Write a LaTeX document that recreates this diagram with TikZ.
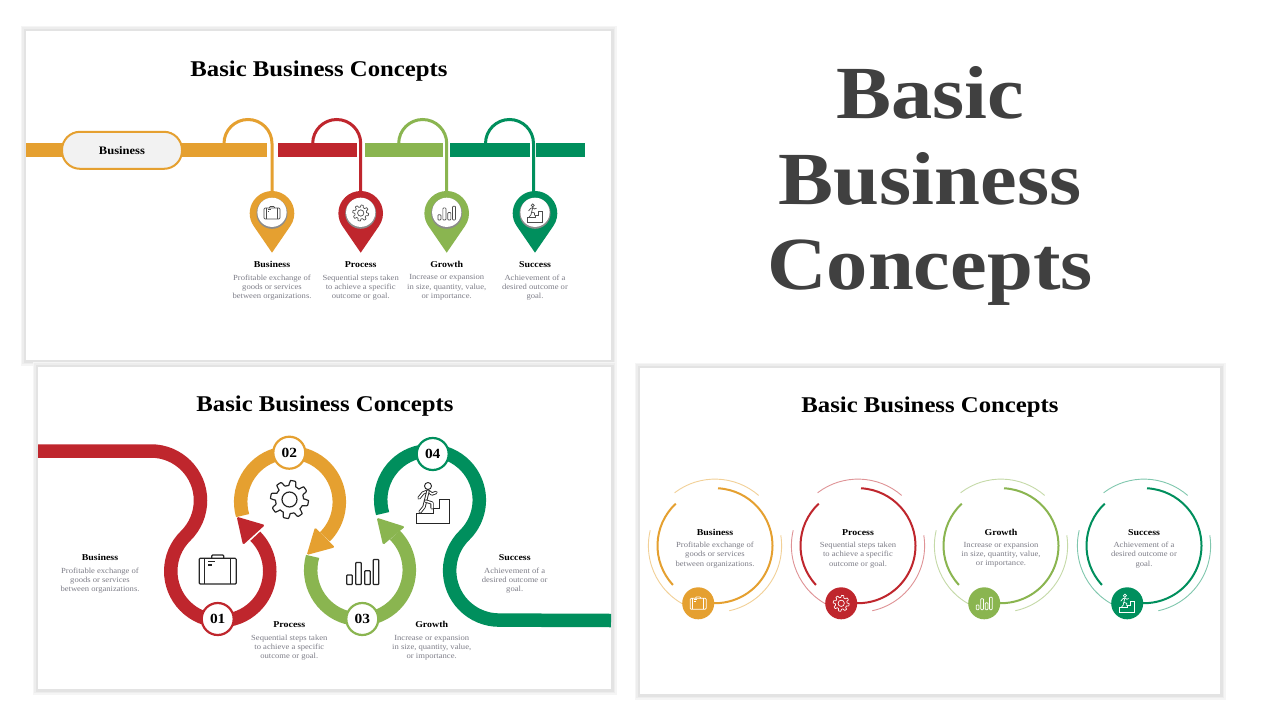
\documentclass[tikz,border=0pt]{standalone}
\usepackage{fontspec}
\usetikzlibrary{positioning}
\setmainfont[FakeStretch=1.1]{Liberation Serif}
\definecolor{bizorange}{HTML}{E5A030}
\definecolor{bizred}{HTML}{BF262D}
\definecolor{bizgreen}{HTML}{8AB550}
\definecolor{bizteal}{HTML}{008F5D}
\definecolor{notegray}{HTML}{7E7E88}
\newcommand{\notebusiness}{Profitable exchange of\\goods or services\\between organizations.}
\newcommand{\noteprocess}{Sequential steps taken\\to achieve a specific\\outcome or goal.}
\newcommand{\notegrowth}{Increase or expansion\\in size, quantity, value,\\or importance.}
\newcommand{\notesuccess}{Achievement of a\\desired outcome or\\goal.}
\tikzset{
  slidetitle/.style={anchor=base, inner sep=0, font=\bfseries\fontsize{22.5}{24}\selectfont},
  bigtitle/.style={anchor=base, inner sep=0, text=black!75, font=\bfseries\fontsize{75}{80}\selectfont},
  conceptname/.style={inner sep=0, text depth=0pt, text height=6.5pt, font=\bfseries\fontsize{9}{10}\selectfont},
  conceptbody/.style={inner sep=0, align=center, text=notegray, font=\fontsize{7.8}{9.3}\selectfont},
  band/.style={line width=13.5},
  stepnum/.style={circle, fill=white, line width=2.2, minimum size=32, inner sep=0, font=\bfseries\fontsize{14}{14}\selectfont},
  limb/.style={line cap=round, line join=round},
  briefcase/.pic={
    \draw[rounded corners=1] (-18.5,-11.7) rectangle (18.5,14);
    \draw[rounded corners=1] (-6,-11.7) -- (-6,-15) -- (6,-15) -- (6,-11.7);
    \draw (-13,-11.7) -- (-13,14) (13,-11.7) -- (13,14);
    \draw (-9.5,-8.5) -- (-3,-8.5) (-9.5,-5) -- (-6,-5);
  },
  gearicon/.pic={
    \draw[line join=round] plot[domain=0:360, samples=121] (\x:{16.5+2.5*max(-1,min(1,2.5*sin(8*\x)))}) -- cycle;
    \draw (0,0) circle[radius=7.5];
  },
  barsicon/.pic={
    \foreach \lx/\top in {-16/3.2, -7/-9.3, 2/-1, 10.5/-12.3}
      \draw[rounded corners=.8] (\lx,12.7) rectangle ({\lx+5.6},\top);
  },
  stairsicon/.pic={
    \draw[line join=miter] (-16.7,10) -- (-16.7,20) -- (16.7,20) -- (16.7,-3.3) -- (6.7,-3.3) -- (6.7,5) -- (0,5) -- (0,10) -- cycle;
    \draw (-5,-17) circle[radius=3.5];
    \draw[limb] (-14,-5) -- (-10,-10) -- (-5,-12) -- (-1,-9) -- (3,-10.5);
    \draw[limb] (-5,-12) -- (-7.5,-2) -- (-9,4) -- (-13,9);
    \draw[limb] (-7.5,-2) -- (-1,0) -- (-1,5);
  },
  pin/.pic={
    \fill (0,39.4) -- (34.5:22.3) arc[start angle=34.5, end angle=-214.5, radius=22.3] -- cycle;
  }
}

\begin{document}
\begin{tikzpicture}[x=1pt, y=-1pt]
\path[use as bounding box, fill=white] (0,0) rectangle (1280,720);

% three slides, each with a soft edge
\foreach \lft/\tp/\rgt/\bt in {26/31/611/360, 38/367/611/689, 640/368/1220/694}
{
  \draw[black!4, line width=11] (\lft,\tp) rectangle (\rgt,\bt);
  \draw[black!7, line width=8] (\lft,\tp) rectangle (\rgt,\bt);
  \draw[black!11, line width=5] (\lft,\tp) rectangle (\rgt,\bt);
  \fill[white] (\lft,\tp) rectangle (\rgt,\bt);
}

\node[bigtitle] (big1) at (930,118) {Basic};
\node[bigtitle] (big2) at (930,204) {Business};
\node[bigtitle] (big3) at (930,289) {Concepts};

% slide one, the pins
\node[slidetitle] (title1) at (319,76) {Basic Business Concepts};
\fill[bizorange] (26,143.3) rectangle (267.3,156.7);
\fill[bizred] (277.7,143.3) rectangle (356.7,156.7);
\fill[bizgreen] (364.7,143.3) rectangle (443.3,156.7);
\fill[bizteal] (450.3,143.3) rectangle (529.5,156.7);
\fill[bizteal] (536.3,143.3) rectangle (585,156.7);
\node[draw=bizorange, fill=black!5, line width=2, rounded corners=18, minimum width=120, minimum height=37, inner sep=0,
  font=\bfseries\fontsize{11.4}{12}\selectfont] (pill) at (122,150.3) {Business};
\foreach \hue/\rx/\px/\pictype/\iconscale/\name/\body [count=\i] in {
  bizorange/272/272/briefcase/.43/Business/\notebusiness,
  bizred/360.7/360.7/gearicon/.42/Process/\noteprocess,
  bizgreen/446.7/446.7/barsicon/.55/Growth/\notegrowth,
  bizteal/533.5/535/stairsicon/.45/Success/\notesuccess}
{
  \coordinate (hook\i) at ({\rx-48},143.5);
  \node[conceptname] (name\i) at (\px,264.5) {\name};
  \node[conceptbody, below=6.5pt of name\i] (body\i) {\body};
  \pic[color=\hue] (pin\i) at (\px,213.3) {pin};
  \draw[\hue, line width=3] (hook\i) arc[start angle=180, end angle=360, radius=24] -- (\rx,196);
  \fill[black!45] (\px,213.3) circle[radius=15.5];
  \fill[white] (\px,212.3) circle[radius=14.6];
  \pic[color=black!70, line width=.7, scale=\iconscale] at (\px,213) {\pictype};
}

% slide two, the winding band
\node[slidetitle] (title2) at (325,411) {Basic Business Concepts};
\draw[band, bizteal] (430,500) ++(164:49.3) arc[start angle=164, end angle=405.6, radius=49.3]
  arc[start angle=225.6, end angle=90, radius=49.5] -- (611,620.5);
\draw[band, bizgreen] (360,570) ++(196:49.3) arc[start angle=196, end angle=-45, radius=49.3];
\fill[bizgreen, rounded corners=1.5] (376.7,517.7) -- (405,526.7) -- (383,545) -- cycle;
\draw[band, bizorange] (290,502) ++(164:49.3) arc[start angle=164, end angle=405, radius=49.3];
\fill[bizorange, rounded corners=1.5] (306.7,555) -- (315,527.3) -- (335,547.3) -- cycle;
\draw[band, bizred] (38,451) -- (151,451) arc[start angle=-90, end angle=45.6, radius=49.5]
  arc[start angle=225.6, end angle=-45, radius=49.5];
\fill[bizred, rounded corners=1.5] (236.7,516.7) -- (265,525) -- (243,545) -- cycle;
\node[stepnum, draw=bizred] (step1) at (217.7,619) {01};
\node[stepnum, draw=bizorange] (step2) at (289.3,452.7) {02};
\node[stepnum, draw=bizgreen] (step3) at (362.3,619) {03};
\node[stepnum, draw=bizteal] (step4) at (432.7,454) {04};
\pic[color=black!85, line width=1.2] at (217.7,570) {briefcase};
\pic[color=black!85, line width=1.2] at (289.5,499.5) {gearicon};
\pic[color=black!85, line width=1.2] at (362.7,571.7) {barsicon};
\pic[color=black!85, line width=.9, limb/.append style={double=white, double distance=1.5pt}] at (433,503) {stairsicon};
\foreach \name/\nx/\ny/\body [count=\i] in {
  Business/100/557.7/\notebusiness,
  Process/289.3/624.7/\noteprocess,
  Growth/431.7/624.7/\notegrowth,
  Success/514.7/557.7/\notesuccess}
{
  \node[conceptname] (label\i) at (\nx,\ny) {\name};
  \node[conceptbody, below=6.5pt of label\i] (text\i) {\body};
}

% slide three, the rings
\node[slidetitle] (title3) at (930,412) {Basic Business Concepts};
\foreach \hue/\cx/\pictype/\iconscale/\name/\body [count=\i] in {
  bizorange/715/briefcase/.43/Business/\notebusiness,
  bizred/858/gearicon/.42/Process/\noteprocess,
  bizgreen/1001/barsicon/.5/Growth/\notegrowth,
  bizteal/1144/stairsicon/.45/Success/\notesuccess}
{
  \coordinate (ring\i) at (\cx,545.7);
  \draw[\hue!50, line width=.9] (ring\i) ++(-127.4:66.6) arc[start angle=-127.4, end angle=-49, radius=66.6];
  \draw[\hue!50, line width=.9] (ring\i) ++(-9:66.6) arc[start angle=-9, end angle=77.6, radius=66.6];
  \draw[\hue!50, line width=.9] (ring\i) ++(-166.6:66.6) arc[start angle=-166.6, end angle=-250, radius=66.6];
  \draw[\hue, line width=2] (ring\i) ++(-87:57.5) arc[start angle=-87, end angle=100, radius=57.5];
  \draw[\hue, line width=2] (ring\i) ++(-133:57.5) arc[start angle=-133, end angle=-223, radius=57.5];
  \node[circle, fill=\hue, minimum size=32, inner sep=0] (badge\i) at ({\cx-16.8},603.3) {};
  \pic[color=white, line width=.7, scale=\iconscale] at (badge\i) {\pictype};
  \node[conceptname] (ringname\i) at (\cx,532) {\name};
  \node[conceptbody, below=6.5pt of ringname\i] (ringbody\i) {\body};
}
\end{tikzpicture}
\end{document}
